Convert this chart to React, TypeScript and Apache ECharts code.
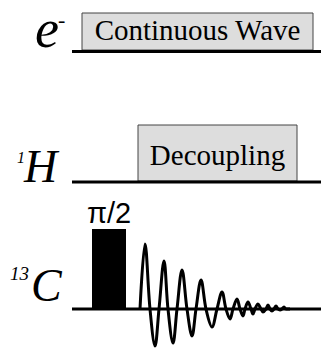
import React, { useEffect, useRef } from "react";
import * as echarts from "echarts";

// Channel baselines
const channelNames = ["e-", "1H", "13C"];
const baseStartX = [72, 72, 72];
const baseEndX = [321, 321, 321];
const baseY = [51.5, 182, 309];

// Shaded boxes: [x1, y1, x2, y2]
const boxLabels = ["Continuous Wave", "Decoupling"];
const boxRects = [
  [82, 13, 313, 50],
  [138, 125, 297, 181],
];

// Pulse
const pulseLabel = "π/2";
const pulseRect = [[92, 229, 126, 309]];

// FID points (extrema and zero crossings)
const fidX = [140, 145, 150, 155, 159, 164, 168, 173, 177, 182, 187, 192, 196, 201, 206, 212, 217, 222, 226, 230, 233, 237, 240, 243, 245, 248, 251, 253, 255, 258, 261, 263, 266, 268, 270, 272, 274, 276, 278, 280, 282, 284, 286, 287, 290];
const fidY = [309, 244, 309, 346, 309, 261, 309, 343, 309, 270, 309, 336, 309, 280, 309, 327, 309, 292, 309, 319, 309, 299, 309, 316, 309, 302, 309, 314, 309, 304, 309, 312, 309, 305, 309, 311, 309, 306, 309, 310, 309, 307, 309, 309, 309];

const SERIF = "Liberation Serif";
const SANS = "Liberation Sans";

export default function App() {
  const ref = useRef<HTMLDivElement>(null);
  useEffect(() => {
    if (!ref.current) return;
    const chart = echarts.init(ref.current, undefined, { renderer: "svg" });
    const baseSeries = baseY.map((y, i) => ({
      type: "line",
      name: channelNames[i],
      data: [
        [baseStartX[i], y],
        [baseEndX[i], y],
      ],
      symbol: "none",
      lineStyle: { color: "#000", width: 3.2 },
      z: 3,
      silent: true,
    }));
    const txt = (
      text: string,
      x: number,
      y: number,
      size: number,
      italic = true,
      family = SERIF,
      align = "left"
    ) => {
      const style: any = {
        text,
        fontSize: size,
        fontFamily: family,
        fill: "#000",
        align,
        verticalAlign: "middle",
      };
      if (italic) style.fontStyle = "italic";
      return { type: "text", x, y, z: 10, style };
    };
    const rectItem = (params: any, api: any, fill: string, stroke: string | null) => {
      const p1 = api.coord([api.value(0), api.value(1)]);
      const p2 = api.coord([api.value(2), api.value(3)]);
      return {
        type: "rect",
        shape: { x: p1[0], y: p1[1], width: p2[0] - p1[0], height: p2[1] - p1[1] },
        style: stroke ? { fill, stroke, lineWidth: 1 } : { fill },
      };
    };
    const boxTexts = boxRects.map((r, i) =>
      txt(boxLabels[i], (r[0] + r[2]) / 2, r[1] + (r[3] - r[1]) * 0.72 - 10, 29, false, SERIF, "center")
    );
    const pulseText = txt(
      pulseLabel,
      (pulseRect[0][0] + pulseRect[0][2]) / 2,
      pulseRect[0][1] - 16,
      29,
      false,
      SANS,
      "center"
    );
    chart.setOption({
      animation: false,
      grid: { left: 0, right: 0, top: 0, bottom: 0 },
      xAxis: { type: "value", min: 0, max: 321, show: false },
      yAxis: { type: "value", min: 0, max: 351, inverse: true, show: false },
      series: [
        ...baseSeries,
        {
          type: "custom",
          data: boxRects,
          z: 2,
          renderItem: (p: any, api: any) => rectItem(p, api, "#dddddd", "#444"),
        },
        {
          type: "custom",
          data: pulseRect,
          z: 2,
          renderItem: (p: any, api: any) => rectItem(p, api, "#000", null),
        },
        {
          type: "line",
          data: fidX.map((x, i) => [x, fidY[i]]),
          symbol: "none",
          smooth: 0.35,
          lineStyle: { color: "#000", width: 3 },
          z: 4,
          silent: true,
        },
      ],
      graphic: [
        ...boxTexts,
        pulseText,
        txt("e", 35, 29, 54),
        txt("-", 58, 19, 22, false),
        txt("1", 17, 157.5, 16),
        txt("H", 24, 166, 46),
        txt("13", 10, 273.5, 19),
        txt("C", 31, 285, 46),
      ],
    });
    return () => chart.dispose();
  }, []);
  return (
    <div
      ref={ref}
      style={{ position: "fixed", left: 0, top: 0, width: 321, height: 351, background: "#fff" }}
    />
  );
}
